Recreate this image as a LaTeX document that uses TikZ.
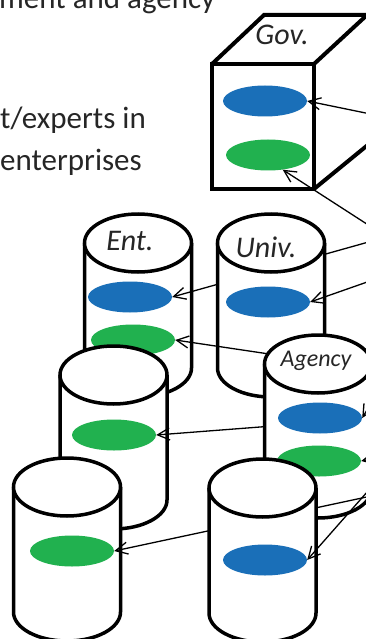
\documentclass[tikz,border=0pt]{standalone}
\usepackage{fontspec}
\setmainfont{Carlito}
\usetikzlibrary{shapes.geometric,arrows.meta}

\definecolor{dbblue}{RGB}{26,111,184}
\definecolor{dbgreen}{RGB}{33,177,79}
\definecolor{slidetext}{RGB}{38,38,38}

\tikzset{
    drum/.style={draw=black, line width=3.5pt, fill=white},
    cube/.style={draw=black, line width=4pt},
    blueblob/.style={ellipse, fill=dbblue, minimum width=84pt, minimum height=31pt, inner sep=0pt},
    greenblob/.style={blueblob, fill=dbgreen},
    feed/.style={-{Straight Barb[length=12pt,width=12pt]}, line width=1.3pt},
    dblabel/.style={font=\fontsize{30}{36}\selectfont\itshape, text=slidetext, inner sep=0pt, anchor=base},
    slideline/.style={font=\fontsize{31}{37}\selectfont, text=slidetext, inner sep=0pt, anchor=base west},
}

% one database drum, top centre at (#1,#2)
\newcommand{\drawdrum}[2]{%
    \draw[drum] (#1-53.5,#2) -- (#1-53.5,#2+125) arc[start angle=180, end angle=0, x radius=53.5, y radius=29] -- (#1+53.5,#2);
    \draw[drum] (#1,#2) ellipse [x radius=53.5, y radius=29];}

\begin{document}
\begin{tikzpicture}[x=1pt, y=-1pt]
    \useasboundingbox (0,0) rectangle (366,639);
    \clip (0,0) rectangle (366,639);

    % sources off the right edge
    \coordinate (srcGovB) at (390,118);
    \coordinate (srcGovG) at (390,239);
    \coordinate (srcEntB) at (390,236);
    \coordinate (srcEntG) at (390,372);
    \coordinate (srcUnivB) at (390,274);
    \coordinate (srcRowB) at (390,417);
    \coordinate (srcRowC) at (390,492);
    \coordinate (srcFrontB) at (390,466);
    \coordinate (srcAgB) at (385,380);
    \coordinate (srcAgG) at (390,455);

    % slide text
    \node[slideline] (govtext) at (-1,8.5) {ment and agency};
    \node[slideline] (expertstext) at (0,129) {t/experts in};
    \node[slideline] (enttext) at (0,171) {enterprises};

    % Gov. cube
    \fill[white] (212,64) -- (264,15) -- (380,15) -- (380,135) -- (314,189) -- (212,189) -- cycle;
    \draw[cube] (212,64) -- (264,15) -- (380,15);
    \draw[cube] (314,64) -- (367,15);
    \draw[cube] (314,189) -- (380,135);
    \draw[cube] (212,64) rectangle (314,189);
    \node[dblabel] (govlabel) at (282,45) {Gov.};
    \node[blueblob] (govB) at (265,101) {};
    \node[greenblob] (govG) at (268,155) {};

    % Ent. drum
    \drawdrum{138}{243}
    \node[dblabel] (entlabel) at (130,250) {Ent.};
    \node[blueblob] (entB) at (130,297) {};
    \node[greenblob] (entG) at (133,340) {};
    \draw[feed] (srcEntB) -- (entB.east);

    % Univ. drum
    \drawdrum{271}{243}
    \node[dblabel] (univlabel) at (266,257) {Univ.};
    \node[blueblob] (univB) at (268,302) {};
    \draw[feed] (srcEntG) -- (entG.east);
    \draw[feed] (srcUnivB) -- (univB.east);

    % middle row, left drum
    \drawdrum{113.5}{375}
    \node[greenblob] (rowG) at (114,435) {};
    \draw[feed] (srcRowB) -- (rowG.east);

    % Agency drum
    \drawdrum{318}{364}
    \node[dblabel, font=\fontsize{24}{29}\selectfont\itshape] (aglabel) at (316,366) {Agency};
    \node[blueblob] (agB) at (320,418) {};
    \node[greenblob] (agG) at (319,461) {};
    \draw[feed] (srcAgB) -- (agB.east);
    \draw[feed] (srcAgG) -- (agG.east);

    % front row
    \drawdrum{67}{487}
    \node[greenblob] (frontG) at (72,551) {};
    \draw[feed] (srcRowC) -- (frontG.east);

    \drawdrum{262.5}{488}
    \node[blueblob] (frontB) at (265,560) {};
    \draw[feed] (srcFrontB) -- (frontB.east);

    % arrows into Gov.
    \draw[feed] (srcGovB) -- (govB.east);
    \draw[feed] (srcGovG) -- (govG.-45);
\end{tikzpicture}
\end{document}
